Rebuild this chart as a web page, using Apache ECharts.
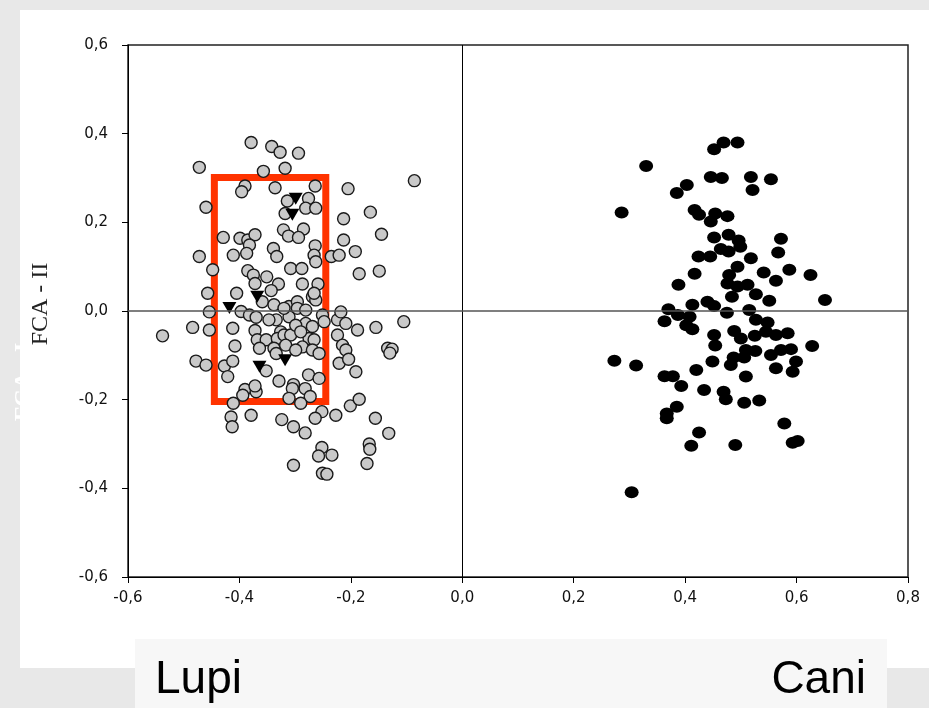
<!DOCTYPE html>
<html>
<head>
<meta charset="utf-8">
<script src="https://cdn.jsdelivr.net/npm/echarts@6/dist/echarts.min.js"></script>
<style>html,body{margin:0;padding:0;background:#e8e8e8;}#c{width:929px;height:708px;}</style>
</head>
<body>
<div id="c"></div>
<script>
// Axis settings
var xTicks = [-0.6, -0.4, -0.2, 0.0, 0.2, 0.4, 0.6, 0.8];
var yTicks = [-0.6, -0.4, -0.2, 0.0, 0.2, 0.4, 0.6];
var yAxisName = 'FCA - II';
var groupLabels = ['Lupi', 'Cani'];

// Wolves (grey circles)
var lupi = [
[-0.379,0.380],[-0.342,0.371],[-0.327,0.358],[-0.294,0.356],[-0.472,0.324],[-0.357,0.315],[-0.318,0.322],[-0.086,0.294],[-0.390,0.282],[-0.396,0.269],
[-0.336,0.278],[-0.264,0.282],[-0.205,0.276],[-0.314,0.248],[-0.276,0.254],[-0.460,0.234],[-0.318,0.220],[-0.281,0.232],[-0.263,0.232],[-0.213,0.208],
[-0.165,0.223],[-0.321,0.183],[-0.285,0.185],[-0.312,0.169],[-0.294,0.166],[-0.429,0.166],[-0.399,0.164],[-0.385,0.160],[-0.372,0.172],[-0.382,0.149],
[-0.145,0.173],[-0.213,0.160],[-0.472,0.123],[-0.411,0.126],[-0.387,0.130],[-0.339,0.141],[-0.333,0.123],[-0.264,0.147],[-0.266,0.126],[-0.263,0.111],
[-0.235,0.123],[-0.221,0.126],[-0.192,0.134],[-0.308,0.096],[-0.288,0.096],[-0.385,0.091],[-0.375,0.081],[-0.351,0.077],[-0.372,0.062],[-0.330,0.061],
[-0.287,0.061],[-0.259,0.061],[-0.185,0.084],[-0.149,0.090],[-0.448,0.093],[-0.343,0.046],
[-0.457,0.040],[-0.405,0.040],[-0.269,0.032],[-0.359,0.021],[-0.338,0.014],[-0.311,0.010],[-0.296,0.021],[-0.263,0.025],[-0.266,0.040],[-0.454,-0.002],
[-0.484,-0.037],[-0.454,-0.043],[-0.538,-0.056],[-0.412,-0.039],[-0.408,-0.079],[-0.397,-0.001],[-0.382,-0.009],[-0.370,-0.014],[-0.372,-0.044],[-0.368,-0.065],
[-0.352,-0.065],[-0.364,-0.084],[-0.334,-0.020],[-0.326,-0.047],[-0.332,-0.062],[-0.320,-0.054],[-0.308,-0.054],[-0.338,-0.084],[-0.317,-0.077],[-0.311,-0.013],
[-0.296,0.006],[-0.281,0.002],[-0.281,-0.028],[-0.269,-0.035],[-0.275,-0.062],[-0.266,-0.065],[-0.287,-0.081],[-0.269,-0.088],[-0.299,-0.088],[-0.251,-0.009],
[-0.248,-0.024],[-0.224,-0.020],[-0.218,-0.002],[-0.209,-0.028],[-0.224,-0.054],[-0.188,-0.043],[-0.215,-0.077],[-0.209,-0.088],[-0.155,-0.037],[-0.134,-0.084],
[-0.257,-0.096],[-0.334,-0.096],[-0.320,0.006],[-0.347,-0.020],[-0.299,-0.032],[-0.290,-0.047],
[-0.478,-0.113],[-0.460,-0.122],[-0.427,-0.124],[-0.412,-0.113],[-0.421,-0.148],[-0.352,-0.135],[-0.329,-0.158],[-0.303,-0.166],[-0.276,-0.144],[-0.257,-0.152],
[-0.282,-0.175],[-0.305,-0.175],[-0.221,-0.118],[-0.204,-0.109],[-0.191,-0.137],[-0.390,-0.177],[-0.370,-0.182],[-0.394,-0.190],[-0.411,-0.208],[-0.372,-0.169],
[-0.273,-0.193],[-0.290,-0.208],[-0.311,-0.197],[-0.201,-0.214],[-0.185,-0.199],[-0.227,-0.235],[-0.252,-0.227],[-0.264,-0.242],[-0.156,-0.242],[-0.132,-0.276],
[-0.379,-0.235],[-0.415,-0.239],[-0.413,-0.261],[-0.324,-0.245],[-0.303,-0.261],[-0.282,-0.275],[-0.252,-0.308],[-0.258,-0.327],[-0.234,-0.325],[-0.167,-0.300],
[-0.166,-0.312],[-0.171,-0.344],[-0.303,-0.348],[-0.251,-0.366],[-0.243,-0.368],[-0.126,-0.086],[-0.130,-0.095],[-0.105,-0.024]
];

// Highlighted individuals (black down-triangles)
var special = [[-0.299,0.253],[-0.305,0.217],[-0.368,0.032],[-0.418,0.007],[-0.318,-0.111],[-0.364,-0.126]];

// Dogs (black circles)
var cani = [
[0.469,0.380],[0.494,0.380],[0.452,0.365],[0.330,0.327],[0.446,0.302],[0.466,0.300],[0.518,0.302],[0.554,0.297],[0.521,0.273],[0.403,0.284],
[0.385,0.266],[0.286,0.222],[0.417,0.228],[0.425,0.217],[0.446,0.202],[0.454,0.220],[0.476,0.214],[0.452,0.166],[0.478,0.172],[0.496,0.159],
[0.499,0.145],[0.464,0.140],[0.478,0.134],[0.572,0.163],[0.567,0.132],[0.424,0.123],[0.445,0.123],[0.518,0.119],[0.494,0.100],[0.587,0.093],
[0.541,0.087],[0.625,0.081],[0.417,0.084],[0.479,0.081],[0.563,0.068],[0.388,0.059],[0.476,0.062],[0.512,0.059],[0.494,0.055],[0.527,0.038],
[0.484,0.032],[0.551,0.023],[0.651,0.025],[0.440,0.021],[0.452,0.011],[0.413,0.014],
[0.370,0.004],[0.363,-0.023],[0.387,-0.009],[0.402,-0.032],[0.413,-0.041],[0.408,-0.013],[0.475,-0.004],[0.515,0.002],[0.527,-0.020],[0.548,-0.026],
[0.488,-0.045],[0.500,-0.062],[0.525,-0.056],[0.545,-0.047],[0.563,-0.054],[0.584,-0.050],[0.452,-0.054],[0.454,-0.078],[0.628,-0.079],[0.509,-0.088],
[0.526,-0.090],[0.487,-0.105],[0.506,-0.105],[0.554,-0.099],[0.572,-0.088],[0.590,-0.086],[0.599,-0.114],[0.449,-0.114],[0.482,-0.122],[0.563,-0.129],
[0.593,-0.137],[0.273,-0.112],[0.312,-0.123],[0.420,-0.133],[0.363,-0.147],[0.378,-0.147],[0.509,-0.148],
[0.393,-0.169],[0.434,-0.178],[0.469,-0.182],[0.473,-0.199],[0.506,-0.207],[0.533,-0.202],[0.385,-0.216],[0.367,-0.231],[0.367,-0.242],[0.425,-0.274],
[0.411,-0.304],[0.490,-0.302],[0.578,-0.254],[0.593,-0.297],[0.602,-0.293],[0.304,-0.409]
];

// Red highlight box corners [x, y]
var boxTopLeft = [-0.445, 0.301];
var boxBottomRight = [-0.245, -0.204];

function fmt(v) {
  if (Math.abs(v) < 1e-9) v = 0;
  return v.toFixed(1).replace('.', ',');
}

var chart = echarts.init(document.getElementById('c'), null, {renderer: 'canvas'});
var labelFont = 'DejaVu Sans';

chart.setOption({
  backgroundColor: '#e8e8e8',
  animation: false,
  grid: {left: 128, right: 21, top: 45, bottom: 131, show: true, borderColor: '#222', borderWidth: 1.5, backgroundColor: 'transparent', containLabel: false},
  xAxis: {
    type: 'value', min: xTicks[0], max: xTicks[xTicks.length - 1], interval: 0.2,
    axisLine: {show: true, onZero: false, lineStyle: {color: '#000', width: 1}},
    axisTick: {show: true, inside: false, length: 6, lineStyle: {color: '#000'}},
    axisLabel: {formatter: fmt, color: '#111', fontFamily: labelFont, fontSize: 15, margin: 14},
    splitLine: {show: false}
  },
  yAxis: {
    type: 'value', min: yTicks[0], max: yTicks[yTicks.length - 1], interval: 0.2,
    axisLine: {show: true, onZero: false, lineStyle: {color: '#000', width: 1}},
    axisTick: {show: true, inside: false, length: 6, lineStyle: {color: '#000'}},
    axisLabel: {formatter: fmt, color: '#111', fontFamily: labelFont, fontSize: 15, margin: 20},
    splitLine: {show: false}
  },
  graphic: [
    {type: 'text', z: -20, x: 12, y: 382, rotation: Math.PI / 2, style: {text: 'FCA - I', fill: '#ffffff', font: 'bold 24px "Liberation Serif"', align: 'center', verticalAlign: 'top'}},
    {type: 'rect', z: -10, shape: {x: 20, y: 10, width: 909, height: 658}, style: {fill: '#ffffff'}},
    {type: 'text', z: 10, x: 29, y: 304, rotation: Math.PI / 2, style: {text: yAxisName, fill: '#222', font: '24px "Liberation Serif"', align: 'center', verticalAlign: 'top'}},
    {type: 'rect', z: 50, shape: {x: 135, y: 639, width: 752, height: 69}, style: {fill: '#f7f7f7'}},
    {type: 'text', z: 51, x: 155, y: 680, style: {text: groupLabels[0], fill: '#000', font: '46px "Liberation Sans"', align: 'left', verticalAlign: 'middle'}},
    {type: 'text', z: 51, x: 866, y: 680, style: {text: groupLabels[1], fill: '#000', font: '46px "Liberation Sans"', align: 'right', verticalAlign: 'middle'}}
  ],
  series: [
    {
      type: 'scatter', z: 1, data: [], silent: true,
      markLine: {
        silent: true, symbol: 'none', label: {show: false}, animation: false,
        data: [
          {xAxis: 0, lineStyle: {color: '#000', width: 1, type: 'solid'}},
          {yAxis: 0, lineStyle: {color: '#555', width: 1.6, type: 'solid'}}
        ]
      }
    },
    {
      name: 'Lupi', type: 'scatter', z: 3, data: lupi, symbol: 'circle', symbolSize: 12,
      itemStyle: {color: '#c9c9c9', borderColor: '#1a1a1a', borderWidth: 1.4, opacity: 1}
    },
    {
      name: 'Speciali', type: 'scatter', z: 4, data: special, symbol: 'triangle', symbolRotate: 180, symbolSize: [14, 12],
      itemStyle: {color: '#000', opacity: 1}
    },
    {
      name: 'Cani', type: 'scatter', z: 3, data: cani, symbol: 'circle', symbolSize: [14, 12],
      itemStyle: {color: '#000', opacity: 1}
    },
    {
      type: 'scatter', z: 6, data: [], silent: true,
      markArea: {
        silent: true, label: {show: false},
        itemStyle: {color: 'rgba(0,0,0,0)', borderColor: '#ff3300', borderWidth: 7},
        data: [[{coord: boxTopLeft}, {coord: boxBottomRight}]]
      }
    }
  ]
});
</script>
</body>
</html>
